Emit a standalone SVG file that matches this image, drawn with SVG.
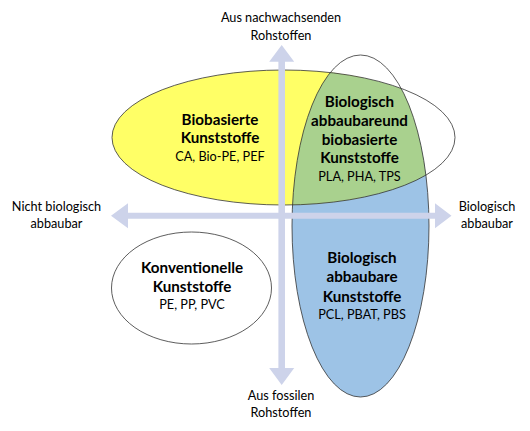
<svg xmlns="http://www.w3.org/2000/svg" width="530" height="431" viewBox="0 0 530 431">
<defs>
<style>
text{font-family:Lato,"Liberation Sans",sans-serif;fill:#000;text-anchor:middle}
.b{font-weight:bold;font-size:15.2px}
.r{font-size:12.7px}
.arr{fill:#cdd3ea}
.ol{fill:none;stroke:#333;stroke-width:0.8}
</style>
<clipPath id="yclip"><ellipse cx="283.5" cy="137.5" rx="171.5" ry="67.5"/></clipPath>
<clipPath id="leftclip"><rect x="0" y="0" width="361" height="431"/></clipPath>
<clipPath id="lowclip"><rect x="0" y="137.5" width="530" height="300"/></clipPath>
</defs>
<rect width="530" height="431" fill="#fff"/>
<g id="bio-abbaubar">
<ellipse cx="360.5" cy="226" rx="68.5" ry="171" fill="#9dc3e6" clip-path="url(#lowclip)"/>
</g>
<g id="biobasiert">
<ellipse cx="283.5" cy="137.5" rx="171.5" ry="67.5" fill="#ffff66" clip-path="url(#leftclip)"/>
</g>
<g id="schnitt">
<ellipse cx="360.5" cy="226" rx="68.5" ry="171" fill="#a9d18e" clip-path="url(#yclip)"/>
</g>
<g id="outlines">
<ellipse class="ol" cx="283.5" cy="137.5" rx="171.5" ry="67.5"/>
<ellipse class="ol" cx="360.5" cy="226" rx="68.5" ry="171"/>
</g>
<g id="konventionell">
<ellipse class="ol" cx="191.5" cy="288" rx="80" ry="56" fill="#fff"/>
</g>
<g id="connectors">
<polygon class="arr" points="111,215.7 128,203.2 128,212.7 435,212.7 435,203.2 451.5,215.7 435,228.2 435,218.7 128,218.7 128,228.2"/>
<polygon class="arr" points="281.7,45 294.2,61.7 285,61.7 285,368 294.2,368 281.7,385 269.2,368 278.4,368 278.4,61.7 269.2,61.7"/>
</g>
<g id="labels">
<text class="r" x="281" y="22">Aus nachwachsenden</text>
<text class="r" x="281" y="39.5">Rohstoffen</text>
<text class="r" x="281" y="400">Aus fossilen</text>
<text class="r" x="281" y="417">Rohstoffen</text>
<text class="r" x="56.5" y="210.5">Nicht biologisch</text>
<text class="r" x="56.5" y="227.5">abbaubar</text>
<text class="r" x="487" y="210.5">Biologisch</text>
<text class="r" x="487" y="227.5">abbaubar</text>
</g>
<g id="t-biobasiert">
<text class="b" x="220" y="125">Biobasierte</text>
<text class="b" x="220" y="143">Kunststoffe</text>
<text class="r" x="220" y="160.5">CA, Bio-PE, PEF</text>
</g>
<g id="t-schnitt">
<text class="b" x="359.5" y="107">Biologisch</text>
<text class="b" x="359.5" y="126">abbaubareund</text>
<text class="b" x="359.5" y="144.5">biobasierte</text>
<text class="b" x="359.5" y="163">Kunststoffe</text>
<text class="r" x="359.5" y="181">PLA, PHA, TPS</text>
</g>
<g id="t-abbaubar">
<text class="b" x="362" y="263">Biologisch</text>
<text class="b" x="362" y="282">abbaubare</text>
<text class="b" x="362" y="301.5">Kunststoffe</text>
<text class="r" x="362" y="319">PCL, PBAT, PBS</text>
</g>
<g id="t-konventionell">
<text class="b" x="192" y="273">Konventionelle</text>
<text class="b" x="192" y="292">Kunststoffe</text>
<text class="r" x="192" y="309">PE, PP, PVC</text>
</g>
</svg>
